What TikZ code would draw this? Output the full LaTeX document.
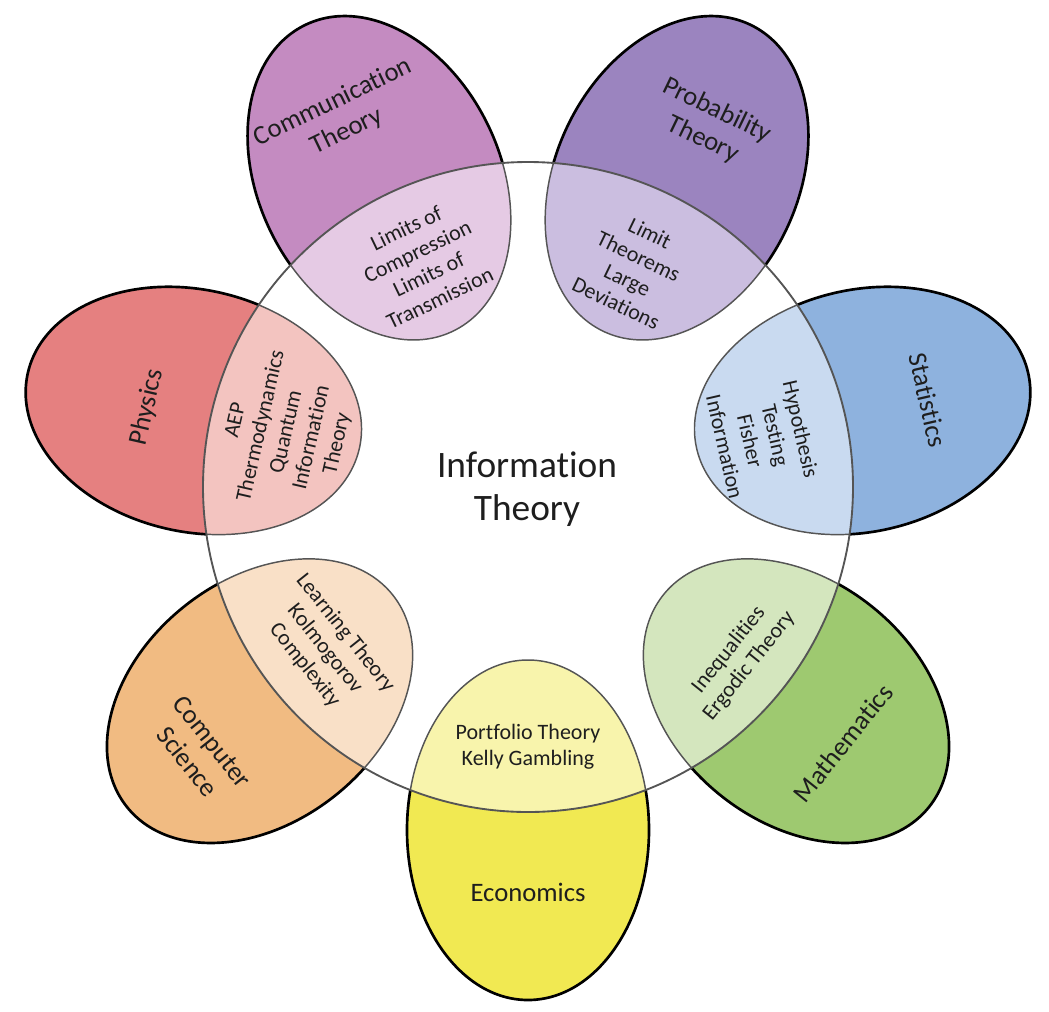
\documentclass[tikz,border=0pt]{standalone}
\usepackage{fontspec}
\setmainfont{Carlito}[Ligatures=NoCommon]

\definecolor{commdark}{RGB}{196,139,193}
\definecolor{commlight}{RGB}{229,202,228}
\definecolor{probdark}{RGB}{155,132,191}
\definecolor{problight}{RGB}{203,190,224}
\definecolor{statdark}{RGB}{142,178,222}
\definecolor{statlight}{RGB}{201,218,240}
\definecolor{mathdark}{RGB}{158,201,112}
\definecolor{mathlight}{RGB}{212,230,190}
\definecolor{econdark}{RGB}{241,233,82}
\definecolor{econlight}{RGB}{248,244,172}
\definecolor{csdark}{RGB}{241,187,130}
\definecolor{cslight}{RGB}{249,224,199}
\definecolor{physdark}{RGB}{229,128,128}
\definecolor{physlight}{RGB}{243,196,192}
\definecolor{rimgray}{RGB}{85,85,85}
\definecolor{inkgray}{RGB}{30,30,30}

\tikzset{every picture/.style={line width=0.75pt}}
\tikzset{
  petalrim/.style={draw=black, line width=2pt},
  overlaprim/.style={draw=rimgray, line width=1.1pt},
  ring/.style={draw=rimgray, line width=1.4pt},
  fieldtext/.style={inner sep=0.75pt, align=center, text=inkgray, font=\fontsize{20}{24}\selectfont},
  overlaptext/.style={inner sep=0.75pt, align=center, text=inkgray, font=\fontsize{16.5}{19.5}\selectfont},
  titletext/.style={inner sep=0.75pt, align=center, text=inkgray, font=\fontsize{28}{32}\selectfont},
}

\begin{document}
\begin{tikzpicture}[x=0.75pt,y=0.75pt,yscale=-1,xscale=1]
\useasboundingbox (0,0) rectangle (1049,1011);

%Shape: Ellipse [id:econ]
\fill [econdark] (528,830) ellipse (121 and 170);
%Shape: Ellipse [id:cs]
\fill [csdark, rotate around={51.43:(259.8,700.9)}] (259.8,700.9) ellipse (121 and 170);
%Shape: Ellipse [id:phys]
\fill [physdark, rotate around={-77.14:(193.6,410.7)}] (193.6,410.7) ellipse (121 and 170);
%Shape: Ellipse [id:comm]
\fill [commdark, rotate around={-25.71:(379.2,178)}] (379.2,178) ellipse (121 and 170);
%Shape: Ellipse [id:prob]
\fill [probdark, rotate around={25.71:(676.8,178)}] (676.8,178) ellipse (121 and 170);
%Shape: Ellipse [id:stat]
\fill [statdark, rotate around={77.14:(862.4,410.7)}] (862.4,410.7) ellipse (121 and 170);
%Shape: Ellipse [id:math]
\fill [mathdark, rotate around={-51.43:(796.2,700.9)}] (796.2,700.9) ellipse (121 and 170);

% overlaps with the centre circle
\begin{scope}
\clip (528,487) circle (325);
\draw [overlaprim, fill=econlight] (528,830) ellipse (121 and 170);
\draw [overlaprim, fill=cslight, rotate around={51.43:(259.8,700.9)}] (259.8,700.9) ellipse (121 and 170);
\draw [overlaprim, fill=physlight, rotate around={-77.14:(193.6,410.7)}] (193.6,410.7) ellipse (121 and 170);
\draw [overlaprim, fill=commlight, rotate around={-25.71:(379.2,178)}] (379.2,178) ellipse (121 and 170);
\draw [overlaprim, fill=problight, rotate around={25.71:(676.8,178)}] (676.8,178) ellipse (121 and 170);
\draw [overlaprim, fill=statlight, rotate around={77.14:(862.4,410.7)}] (862.4,410.7) ellipse (121 and 170);
\draw [overlaprim, fill=mathlight, rotate around={-51.43:(796.2,700.9)}] (796.2,700.9) ellipse (121 and 170);
\end{scope}

% outer rims
\begin{scope}[even odd rule]
\clip (0,0) rectangle (1049,1011) (528,487) circle (325);
\draw [petalrim] (528,830) ellipse (121 and 170);
\draw [petalrim, rotate around={51.43:(259.8,700.9)}] (259.8,700.9) ellipse (121 and 170);
\draw [petalrim, rotate around={-77.14:(193.6,410.7)}] (193.6,410.7) ellipse (121 and 170);
\draw [petalrim, rotate around={-25.71:(379.2,178)}] (379.2,178) ellipse (121 and 170);
\draw [petalrim, rotate around={25.71:(676.8,178)}] (676.8,178) ellipse (121 and 170);
\draw [petalrim, rotate around={77.14:(862.4,410.7)}] (862.4,410.7) ellipse (121 and 170);
\draw [petalrim, rotate around={-51.43:(796.2,700.9)}] (796.2,700.9) ellipse (121 and 170);
\end{scope}

%Shape: Circle [id:infocircle]
\draw [ring] (528,487) circle (325);

% Text Node
\node [titletext] (title) at (527,489) {Information\\Theory};

% Text Node
\node [fieldtext, rotate=25.7] (commname) at (340,117) {Communication\\Theory};
% Text Node
\node [fieldtext, rotate=-25.7] (probname) at (710,125) {Probability\\Theory};
% Text Node
\node [fieldtext, rotate=77.1] (physname) at (147,407) {Physics};
% Text Node
\node [fieldtext, rotate=-77.1] (statname) at (928,400) {Statistics};
% Text Node
\node [fieldtext, rotate=51.4] (mathname) at (843,743) {Mathematics};
% Text Node
\node [fieldtext, rotate=-51.4] (csname) at (200,752) {Computer\\Science};
% Text Node
\node [fieldtext] (econname) at (528,892) {Economics};

% Text Node
\node [overlaptext, rotate=25.7] (commtopic) at (423,263) {Limits of\\Compression\\Limits of\\Transmission};
% Text Node
\node [overlaptext, rotate=-25.7] (probtopic) at (633,268) {Limit\\Theorems\\Large\\Deviations};
% Text Node
\node [overlaptext, rotate=77.1] (phystopic) at (287,432) {AEP\\Thermodynamics\\Quantum\\Information\\Theory};
% Text Node
\node [overlaptext, rotate=-77.1] (stattopic) at (763,438) {Hypothesis\\Testing\\Fisher\\Information};
% Text Node
\node [overlaptext, rotate=51.4] (mathtopic) at (739,658) {Inequalities\\Ergodic Theory};
% Text Node
\node [overlaptext, rotate=-51.4] (cstopic) at (325,649) {Learning Theory\\Kolmogorov\\Complexity};
% Text Node
\node [overlaptext] (econtopic) at (528,747) {Portfolio Theory\\Kelly Gambling};
\end{tikzpicture}
\end{document}
